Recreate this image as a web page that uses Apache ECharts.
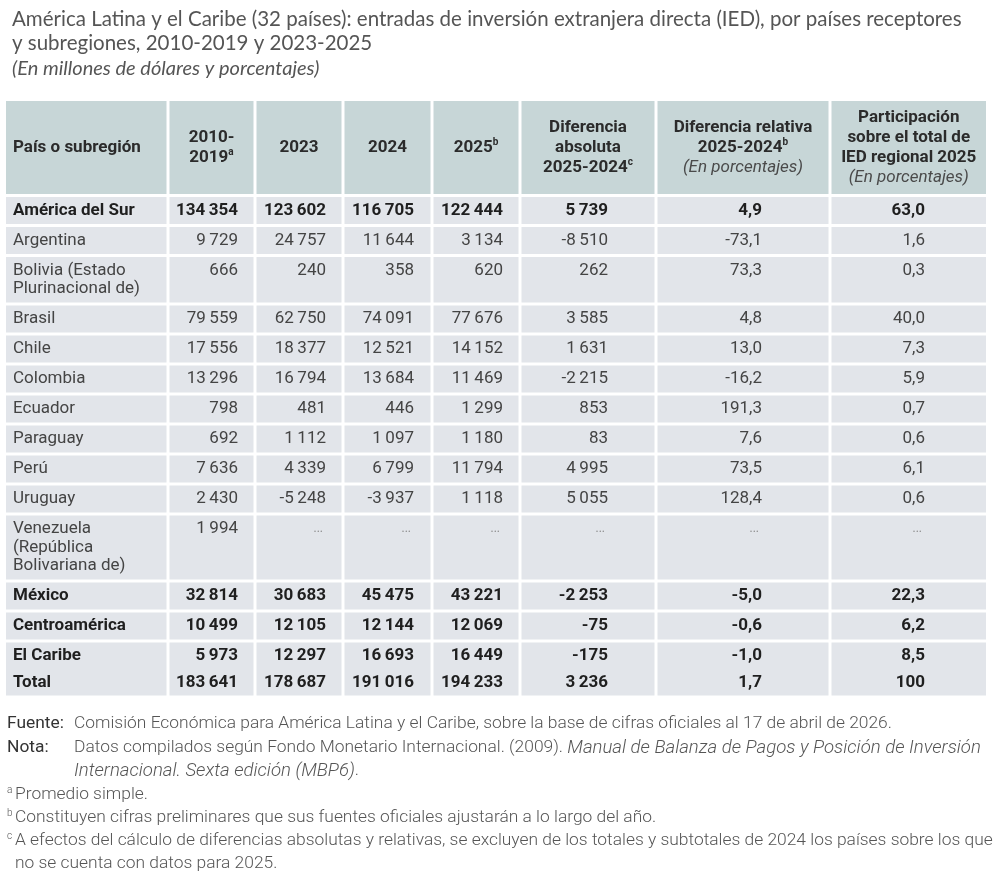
<!DOCTYPE html>
<html>
<head>
<meta charset="utf-8">
<script src="https://cdn.jsdelivr.net/npm/echarts@6/dist/echarts.min.js"></script>
<style>
  html, body { margin: 0; background: #fff; }
  #chart { width: 1000px; height: 893px; }
</style>
</head>
<body>
<div id="chart"></div>
<script>
const chart = echarts.init(document.getElementById("chart"));

// ==========================
// DATA
// ==========================

const rowNames = [
  "América del Sur", "Argentina", "Bolivia (Estado\nPlurinacional de)", "Brasil", "Chile",
  "Colombia", "Ecuador", "Paraguay", "Perú", "Uruguay",
  "Venezuela\n(República\nBolivariana de)", "México", "Centroamérica", "El Caribe", "Total"
];
const boldRows = ["América del Sur", "México", "Centroamérica", "El Caribe", "Total"];

const avg2010_2019 = [134354, 9729, 666, 79559, 17556, 13296, 798, 692, 7636, 2430, 1994, 32814, 10499, 5973, 183641];
const fdi2023 = [123602, 24757, 240, 62750, 18377, 16794, 481, 1112, 4339, -5248, null, 30683, 12105, 12297, 178687];
const fdi2024 = [116705, 11644, 358, 74091, 12521, 13684, 446, 1097, 6799, -3937, null, 45475, 12144, 16693, 191016];
const fdi2025 = [122444, 3134, 620, 77676, 14152, 11469, 1299, 1180, 11794, 1118, null, 43221, 12069, 16449, 194233];
const diffAbs = [5739, -8510, 262, 3585, 1631, -2215, 853, 83, 4995, 5055, null, -2253, -75, -175, 3236];
const diffRel = [4.9, -73.1, 73.3, 4.8, 13.0, -16.2, 191.3, 7.6, 73.5, 128.4, null, -5.0, -0.6, -1.0, 1.7];
const share2025 = [63.0, 1.6, 0.3, 40.0, 7.3, 5.9, 0.7, 0.6, 6.1, 0.6, null, 22.3, 6.2, 8.5, 100];

const headers = [
  "País o subregión",
  "2010-\n2019{sup|a}",
  "2023",
  "2024",
  "2025{sup|b}",
  "Diferencia\nabsoluta\n2025-2024{sup|c}",
  "Diferencia relativa\n2025-2024{sup|b}\n{it|(En porcentajes)}",
  "Participación\nsobre el total de\nIED regional 2025\n{it|(En porcentajes)}"
];

const columns = [rowNames, avg2010_2019, fdi2023, fdi2024, fdi2025, diffAbs, diffRel, share2025];
const pctCols = [6, 7];

// ==========================
// LAYOUT
// ==========================

const TABLE_LEFT = 6;
const TABLE_TOP = 101;
const COL_W = [162, 87, 88, 89, 88, 136, 174, 156];
const RIGHT_PAD = [0, 17, 17, 18, 17, 48, 68, 61];
const HEAD_H = 93;
const ROW_H = 27;
const LINE_H = 18.5;
const GAP = 3;

const BODY_FONT = "Roboto";
const NOTE_FONT = "Roboto";
const TITLE_FONT = "Lato";
const HEAD_BG = "#c7d6d7";
const BODY_BG = "#e2e5ea";

const colEdges = [0];
COL_W.forEach(w => colEdges.push(colEdges[colEdges.length - 1] + w));

// row extents (top, bottom) in table units; the header sits above them
const rowTops = [];
const rowBottoms = [];
let cursor = HEAD_H + GAP;
rowNames.forEach(name => {
  const lines = name.split("\n").length;
  const joined = name === "El Caribe" || name === "Total";
  const h = joined ? 26.5 : ROW_H + (lines - 1) * LINE_H;
  rowTops.push(cursor);
  rowBottoms.push(cursor + h);
  cursor += h + (name === "El Caribe" ? 0 : GAP);
});
const TABLE_H = rowBottoms[rowBottoms.length - 1];
const TABLE_W = colEdges[colEdges.length - 1];

function fmtInt(v) {
  const s = String(Math.abs(v)).replace(/\B(?=(\d{3})+(?!\d))/g, "\u2009");
  return (v < 0 ? "-" : "") + s;
}
function fmtPct(v) {
  if (v === 100) return "100";
  return v.toFixed(1).replace(".", ",");
}

// cell list: [x0, x1, y0, y1, col, row]
const cells = [];
headers.forEach((_, c) => {
  cells.push([colEdges[c], colEdges[c + 1], 0, HEAD_H, c, -1]);
});
rowNames.forEach((_, r) => {
  columns.forEach((__, c) => {
    cells.push([colEdges[c], colEdges[c + 1], rowTops[r], rowBottoms[r], c, r]);
  });
});

// ==========================
// RENDER
// ==========================

function renderCell(params, api) {
  const c = api.value(4);
  const r = api.value(5);
  const tl = api.coord([api.value(0), api.value(2)]);
  const br = api.coord([api.value(1), api.value(3)]);
  const x0 = tl[0] + (c > 0 ? GAP / 2 : 0);
  const x1 = br[0] - (c < COL_W.length - 1 ? GAP / 2 : 0);
  const y0 = tl[1];
  const y1 = br[1];

  const children = [{
    type: "rect",
    shape: { x: x0, y: y0, width: x1 - x0, height: y1 - y0 },
    style: { fill: r < 0 ? HEAD_BG : BODY_BG }
  }];

  if (r < 0) {
    children.push({
      type: "text",
      x: c === 0 ? x0 + 7 : (x0 + x1) / 2,
      y: (y0 + y1) / 2,
      style: {
        text: headers[c],
        align: c === 0 ? "left" : "center",
        verticalAlign: "middle",
        fontFamily: BODY_FONT,
        fontSize: 17,
        fontWeight: "bold",
        lineHeight: 20,
        fill: "#2b2b2b",
        rich: {
          sup: { fontSize: 10, fontWeight: "bold", verticalAlign: "top", lineHeight: 20, fill: "#2b2b2b", fontFamily: BODY_FONT },
          it: { fontSize: 17, fontStyle: "italic", fontWeight: "normal", lineHeight: 20, fill: "#4a4a4a", fontFamily: BODY_FONT }
        }
      }
    });
    return { type: "group", children };
  }

  const name = rowNames[r];
  const bold = boldRows.indexOf(name) >= 0;
  const lines = name.split("\n").length;
  const firstY = y0 + ROW_H / 2;

  if (c === 0) {
    children.push({
      type: "text",
      x: x0 + 7,
      y: lines > 1 ? firstY - LINE_H / 2 : (y0 + y1) / 2,
      style: {
        text: name,
        align: "left",
        verticalAlign: lines > 1 ? "top" : "middle",
        fontFamily: BODY_FONT,
        fontSize: 17,
        fontWeight: bold ? "bold" : "normal",
        lineHeight: LINE_H,
        fill: bold ? "#1f1f1f" : "#444"
      }
    });
  } else {
    const v = columns[c][r];
    const missing = v === null;
    const label = missing ? "..." : (pctCols.indexOf(c) >= 0 ? fmtPct(v) : fmtInt(v));
    children.push({
      type: "text",
      x: x1 + (c < COL_W.length - 1 ? GAP / 2 : 0) - RIGHT_PAD[c] - (missing ? 3 : 0),
      y: lines > 1 ? firstY : (y0 + y1) / 2,
      style: {
        text: label,
        align: "right",
        verticalAlign: "middle",
        fontFamily: BODY_FONT,
        fontSize: missing ? 12 : 17,
        fontWeight: bold ? "bold" : "normal",
        fill: missing ? "#8a8a8a" : (bold ? "#1f1f1f" : "#444")
      }
    });
  }
  return { type: "group", children };
}

// ==========================
// FOOTNOTES
// ==========================

const noteRich = {
  k: { fontFamily: NOTE_FONT, fontSize: 17.4, fontWeight: "normal", fill: "#333" },
  i: { fontFamily: NOTE_FONT, fontSize: 18.6, fontWeight: 300, fontStyle: "italic", fill: "#555" },
  s: { fontFamily: NOTE_FONT, fontSize: 10, fontWeight: 300, fill: "#555" }
};
function note(x, y, text) {
  return {
    type: "text",
    x: x,
    y: y,
    style: {
      text: text,
      fontFamily: NOTE_FONT,
      fontSize: 17.4,
      fontWeight: 300,
      fill: "#555",
      verticalAlign: "middle",
      rich: noteRich
    }
  };
}

chart.setOption({
  animation: false,
  title: {
    left: 7,
    top: 2,
    text: "América Latina y el Caribe (32 países): entradas de inversión extranjera directa (IED), por países receptores\ny subregiones, 2010-2019 y 2023-2025",
    textStyle: {
      fontFamily: TITLE_FONT,
      fontSize: 20.5,
      fontWeight: "normal",
      color: "#555",
      lineHeight: 24
    },
    subtext: "(En millones de dólares y porcentajes)",
    subtextStyle: {
      fontFamily: TITLE_FONT,
      fontSize: 20,
      fontStyle: "italic",
      color: "#555"
    },
    itemGap: 4
  },
  grid: {
    left: TABLE_LEFT,
    top: TABLE_TOP,
    width: TABLE_W,
    height: TABLE_H
  },
  xAxis: { type: "value", min: 0, max: TABLE_W, show: false },
  yAxis: { type: "value", min: 0, max: TABLE_H, inverse: true, show: false },
  series: [{
    type: "custom",
    renderItem: renderCell,
    encode: { x: [0, 1], y: [2, 3] },
    data: cells
  }],
  graphic: [
    note(7, 724, "{k|Fuente:}"),
    note(74, 724, "Comisión Económica para América Latina y el Caribe, sobre la base de cifras oficiales al 17 de abril de 2026."),
    note(7, 748, "{k|Nota:}"),
    note(74, 748, "Datos compilados según Fondo Monetario Internacional. (2009). {i|Manual de Balanza de Pagos y Posición de Inversión}"),
    note(74, 771, "{i|Internacional. Sexta edición (MBP6)}."),
    note(7, 790, "{s|a}"),
    note(15, 795, "Promedio simple."),
    note(7, 813, "{s|b}"),
    note(15, 818, "Constituyen cifras preliminares que sus fuentes oficiales ajustarán a lo largo del año."),
    note(7, 836, "{s|c}"),
    note(15, 841, "A efectos del cálculo de diferencias absolutas y relativas, se excluyen de los totales y subtotales de 2024 los países sobre los que"),
    note(15, 864, "no se cuenta con datos para 2025.")
  ]
});
</script>
</body>
</html>
